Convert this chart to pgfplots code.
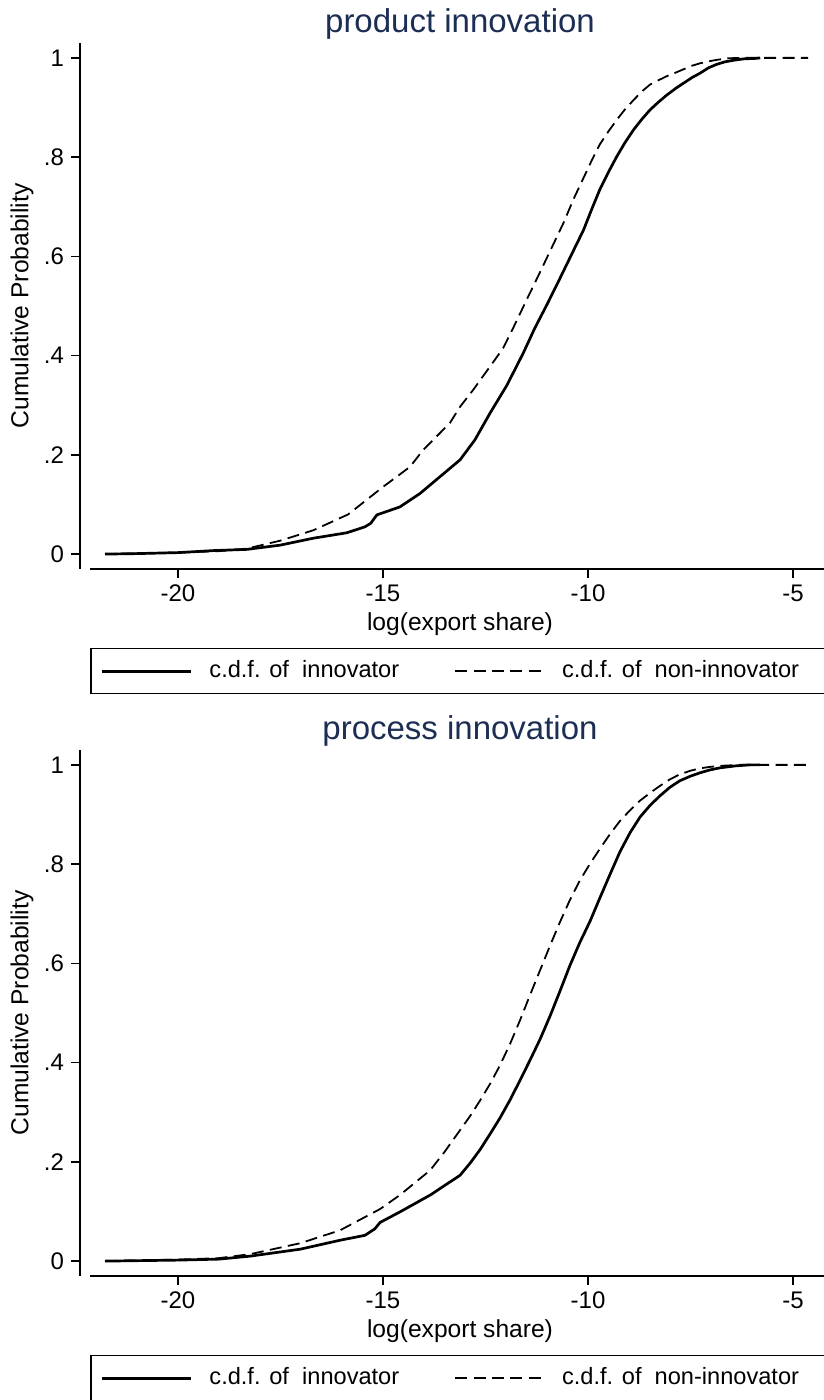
\documentclass[border=0pt]{standalone}
\usepackage{pgfplots}
\pgfplotsset{compat=1.18}
\usepackage{fontspec}
\setmainfont{Liberation Sans}
\definecolor{titlecol}{RGB}{29,46,84}

\pgfplotsset{
  base/.style={
    scale only axis, width=370pt, height=263pt,
    xmin=-22.146, xmax=-4.098, ymin=-0.030, ymax=1.030,
    /pgf/number format/assume math mode=true,
    tick align=outside, major tick length=4.5pt,
    every tick/.style={black, line width=0.75pt},
    axis line style={black, line width=0.75pt},
    tick label style={font=\fontsize{12}{14}\selectfont},
    label style={font=\fontsize{12.3}{14}\selectfont},
  },
  mainax/.style={base,
    axis x line*=bottom, axis y line=none,
    xtick={-20,-15,-10,-5}, ytick=\empty,
    xlabel={log(export share)},
    xlabel style={at={(axis description cs:0.5,0)}, anchor=center, yshift=-27.5pt},
    title style={at={(axis description cs:0.5,1)}, anchor=center, yshift=3.5pt,
      font=\fontsize{16.5}{20}\selectfont, text=titlecol},
    legend image code/.code={\draw[#1] (0pt,0pt) -- (44.5pt,0pt);},
    legend columns=2,
    legend cell align=left,
    legend style={at={(axis description cs:0,0)}, anchor=north west, yshift=-39.5pt,
      draw=black, line width=0.75pt, inner xsep=5pt, inner ysep=5.5pt,
      /tikz/every odd column/.append style={column sep=8.5pt},
      /tikz/every even column/.append style={column sep=27.5pt},
      nodes={inner sep=0pt, text height=9pt, text depth=2.5pt,
        font=\fontsize{11.8}{14}\selectfont}},
  },
  yax/.style={base, width=5pt,
    axis x line=none, axis y line*=left,
    xtick=\empty, ytick={0,0.2,0.4,0.6,0.8,1},
    yticklabels={0,.2,.4,.6,.8,1},
    ylabel={Cumulative Probability},
    ylabel style={at={(axis description cs:0,0.5)}, anchor=center, yshift=29pt},
  },
  inno/.style={black, line width=1.35pt, line join=round},
  noninno/.style={black, line width=0.9pt, dash pattern=on 6pt off 3.2pt, line join=round},
}

\begin{document}
\begin{tikzpicture}
\useasboundingbox (0,0) rectangle (411.5pt,700pt);

% ---------- top panel: product innovation ----------
\begin{axis}[yax, at={(40pt,415.5pt)}, anchor=south west]
\end{axis}
\begin{axis}[mainax, at={(45pt,415.5pt)}, anchor=south west, title={product innovation}]
\addplot[inno] coordinates {
(-21.78,0) (-21.0,0.001) (-20.0,0.003) (-19.15,0.007) (-18.32,0.0095) (-17.51,0.018)
(-16.7,0.032) (-15.88,0.043) (-15.44,0.055) (-15.3,0.062) (-15.15,0.079) (-14.59,0.095)
(-14.10,0.122) (-13.61,0.156) (-13.12,0.190) (-12.76,0.230) (-12.39,0.284) (-11.98,0.340)
(-11.58,0.405) (-11.3,0.455) (-11.0,0.503) (-10.7,0.553) (-10.4,0.604) (-10.11,0.653)
(-9.90,0.697) (-9.71,0.735) (-9.50,0.770) (-9.30,0.801) (-9.10,0.829) (-8.89,0.855)
(-8.69,0.876) (-8.49,0.895) (-8.28,0.911) (-8.08,0.925) (-7.87,0.938) (-7.67,0.949)
(-7.47,0.960) (-7.27,0.969) (-7.06,0.980) (-6.86,0.987) (-6.66,0.992) (-6.46,0.995)
(-6.2,0.998) (-5.89,0.999) (-5.8,1.0)
};
\addlegendentry{c.d.f. of\ \ innovator}
\addplot[noninno] coordinates {
(-21.78,0) (-20.0,0.003) (-19.0,0.006) (-18.32,0.011) (-17.51,0.027) (-16.7,0.048)
(-15.85,0.08) (-14.99,0.136) (-14.34,0.176) (-14.02,0.210) (-13.37,0.264) (-13.12,0.297)
(-12.80,0.331) (-12.39,0.378) (-12.07,0.415) (-11.8,0.460) (-11.5,0.512) (-11.2,0.563)
(-10.9,0.615) (-10.60,0.667) (-10.35,0.716) (-10.11,0.758) (-9.90,0.795) (-9.71,0.826)
(-9.50,0.852) (-9.30,0.875) (-9.10,0.896) (-8.89,0.915) (-8.69,0.932) (-8.49,0.946)
(-8.28,0.955) (-8.08,0.963) (-7.87,0.970) (-7.67,0.977) (-7.47,0.984) (-7.27,0.989)
(-7.06,0.993) (-6.86,0.996) (-6.6,0.999) (-6.3,1.0) (-4.63,1.0)
};
\addlegendentry{c.d.f. of\ \ non-innovator\hspace*{12pt}}
\end{axis}

% ---------- bottom panel: process innovation ----------
\begin{axis}[yax, at={(40pt,62pt)}, anchor=south west]
\end{axis}
\begin{axis}[mainax, at={(45pt,62pt)}, anchor=south west, title={process innovation}]
\addplot[inno] coordinates {
(-21.78,0) (-20.0,0.002) (-19.0,0.004) (-18.24,0.01) (-17.02,0.024) (-16.05,0.042)
(-15.44,0.052) (-15.2,0.065) (-15.07,0.078) (-14.59,0.099) (-13.85,0.133) (-13.12,0.173)
(-12.87,0.198) (-12.63,0.225) (-12.39,0.256) (-12.15,0.288) (-11.90,0.325) (-11.66,0.364)
(-11.42,0.404) (-11.17,0.447) (-10.92,0.495) (-10.68,0.545) (-10.44,0.596) (-10.20,0.642)
(-9.95,0.685) (-9.71,0.732) (-9.46,0.780) (-9.22,0.825) (-8.97,0.864) (-8.73,0.895)
(-8.48,0.919) (-8.24,0.938) (-8.00,0.955) (-7.76,0.968) (-7.51,0.977) (-7.27,0.984)
(-7.02,0.990) (-6.78,0.994) (-6.4,0.998) (-6.05,1.0) (-5.8,1.0)
};
\addlegendentry{c.d.f. of\ \ innovator}
\addplot[noninno] coordinates {
(-21.78,0) (-20.0,0.003) (-19.0,0.006) (-18.24,0.014) (-17.02,0.036) (-16.05,0.062)
(-15.07,0.105) (-14.59,0.133) (-13.85,0.183) (-13.50,0.220) (-13.12,0.264) (-12.87,0.293)
(-12.63,0.324) (-12.39,0.357) (-12.15,0.394) (-11.90,0.438) (-11.66,0.485) (-11.42,0.535)
(-11.17,0.586) (-10.92,0.637) (-10.68,0.684) (-10.44,0.728) (-10.20,0.767) (-9.95,0.801)
(-9.71,0.831) (-9.46,0.861) (-9.22,0.887) (-8.97,0.909) (-8.73,0.928) (-8.48,0.944)
(-8.24,0.958) (-8.00,0.971) (-7.76,0.981) (-7.51,0.988) (-7.27,0.993) (-7.02,0.996)
(-6.78,0.998) (-6.3,1.0) (-4.63,1.0)
};
\addlegendentry{c.d.f. of\ \ non-innovator\hspace*{12pt}}
\end{axis}
\end{tikzpicture}
\end{document}
